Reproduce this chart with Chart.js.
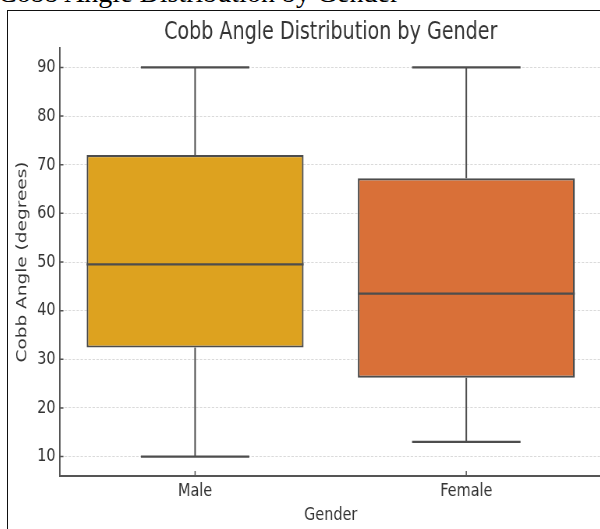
<!DOCTYPE html>
<html lang="en">
<head>
    <meta charset="UTF-8">
    <title>Cobb Angle Distribution by Gender</title>
    <script src="https://cdn.jsdelivr.net/npm/chart.js"></script>
    <style>
        html, body {
            margin: 0;
            padding: 0;
            width: 600px;
            height: 529px;
            overflow: hidden;
            background: #fff;
        }

        .doc-heading {
            position: absolute;
            left: -2px;
            top: -21.5px;
            font-family: "Liberation Serif", "DejaVu Serif", serif;
            font-size: 28px;
            line-height: 28px;
            white-space: nowrap;
            color: #000;
        }

        .frame {
            position: absolute;
            left: 7px;
            top: 10px;
            width: 700px;
            height: 600px;
            border-left: 1.5px solid #111;
            border-top: 1.5px solid #111;
        }

        #wrap {
            position: absolute;
            left: -26.5px;
            top: 0;
        }

        /* the source image is squeezed horizontally, so is the canvas */
        #chart {
            transform: scaleX(0.78);
            transform-origin: 0 0;
        }
    </style>
</head>
<body>
    <div class="doc-heading">Cobb Angle Distribution by Gender</div>
    <div class="frame"></div>
    <div id="wrap"><canvas id="chart" width="805" height="529"></canvas></div>

    <script>
        const genders = ['Male', 'Female'];
        const whiskerLow = [10, 13];
        const q1 = [32.4, 26.2];
        const medians = [49.5, 43.5];
        const q3 = [72, 67.2];
        const whiskerHigh = [90, 90];
        const yTicks = [10, 20, 30, 40, 50, 60, 70, 80, 90];
        const boxColors = ['#DDA21F', '#D97038'];

        const FONT = '"DejaVu Sans", sans-serif';
        const edgeColor = '#4d4d4d';
        const axisColor = '#555';

        // whiskers, caps, medians and the short inward ticks
        const boxWhiskers = {
            id: 'boxWhiskers',
            beforeDatasetsDraw(chart) {
                const ctx = chart.ctx;
                const y = chart.scales.y;
                const bars = chart.getDatasetMeta(0).data;
                ctx.save();
                ctx.strokeStyle = edgeColor;
                bars.forEach((bar, i) => {
                    const half = bar.width / 4;
                    ctx.lineWidth = 2;
                    ctx.beginPath();
                    ctx.moveTo(bar.x, y.getPixelForValue(q3[i]));
                    ctx.lineTo(bar.x, y.getPixelForValue(whiskerHigh[i]));
                    ctx.moveTo(bar.x, y.getPixelForValue(q1[i]));
                    ctx.lineTo(bar.x, y.getPixelForValue(whiskerLow[i]));
                    ctx.stroke();
                    ctx.lineWidth = 2.2;
                    ctx.beginPath();
                    ctx.moveTo(bar.x - half, y.getPixelForValue(whiskerHigh[i]));
                    ctx.lineTo(bar.x + half, y.getPixelForValue(whiskerHigh[i]));
                    ctx.moveTo(bar.x - half, y.getPixelForValue(whiskerLow[i]));
                    ctx.lineTo(bar.x + half, y.getPixelForValue(whiskerLow[i]));
                    ctx.stroke();
                });
                ctx.restore();
            },
            afterDraw(chart) {
                const ctx = chart.ctx;
                const { x, y } = chart.scales;
                const area = chart.chartArea;
                const bars = chart.getDatasetMeta(0).data;
                ctx.save();
                ctx.strokeStyle = edgeColor;
                ctx.lineWidth = 2.2;
                bars.forEach((bar, i) => {
                    const py = y.getPixelForValue(medians[i]);
                    ctx.beginPath();
                    ctx.moveTo(bar.x - bar.width / 2, py);
                    ctx.lineTo(bar.x + bar.width / 2, py);
                    ctx.stroke();
                });
                ctx.strokeStyle = axisColor;
                ctx.lineWidth = 1.5;
                ctx.beginPath();
                yTicks.forEach(v => {
                    const py = y.getPixelForValue(v);
                    ctx.moveTo(area.left, py);
                    ctx.lineTo(area.left + 5, py);
                });
                genders.forEach((g, i) => {
                    const px = x.getPixelForValue(i);
                    ctx.moveTo(px, area.bottom);
                    ctx.lineTo(px, area.bottom - 5);
                });
                ctx.stroke();
                ctx.restore();
            }
        };

        new Chart(document.getElementById('chart'), {
            type: 'bar',
            data: {
                labels: genders,
                datasets: [{
                    data: q1.map((v, i) => [v, q3[i]]),
                    backgroundColor: boxColors,
                    borderColor: edgeColor,
                    borderWidth: 2.2,
                    borderSkipped: false,
                    categoryPercentage: 1,
                    barPercentage: 0.8
                }]
            },
            options: {
                responsive: false,
                animation: false,
                layout: { padding: 0 },
                plugins: {
                    legend: { display: false },
                    tooltip: { enabled: false },
                    title: {
                        display: true,
                        fullSize: false,
                        text: 'Cobb Angle Distribution by Gender',
                        color: '#333',
                        font: { family: FONT, size: 24.5, weight: 'normal' },
                        padding: { top: 17.8, bottom: 0.8 }
                    }
                },
                scales: {
                    x: {
                        z: 1,
                        grid: { display: false },
                        border: { color: axisColor, width: 2 },
                        ticks: { color: '#333', font: { family: FONT, size: 18.5 }, padding: -4 },
                        title: {
                            display: true,
                            text: 'Gender',
                            color: '#333',
                            font: { family: FONT, size: 18.5 },
                            padding: { top: 0, bottom: 3 }
                        },
                        afterFit(scale) { scale.height = 53; }
                    },
                    y: {
                        z: 1,
                        min: 6,
                        max: 94,
                        afterBuildTicks(scale) { scale.ticks = yTicks.map(v => ({ value: v })); },
                        grid: { color: 'rgba(170, 170, 170, 0.55)', lineWidth: 0.8, drawTicks: false },
                        border: { color: axisColor, width: 2, dash: [3.2, 1.9] },
                        ticks: { color: '#333', font: { family: FONT, size: 18.5 }, padding: 5 },
                        title: {
                            display: true,
                            text: 'Cobb Angle (degrees)',
                            color: '#333',
                            font: { family: FONT, size: 18.5 },
                            padding: { top: 51, bottom: 0 }
                        },
                        afterFit(scale) { scale.width = 109.6; }
                    }
                }
            },
            plugins: [boxWhiskers]
        });
    </script>
</body>
</html>
